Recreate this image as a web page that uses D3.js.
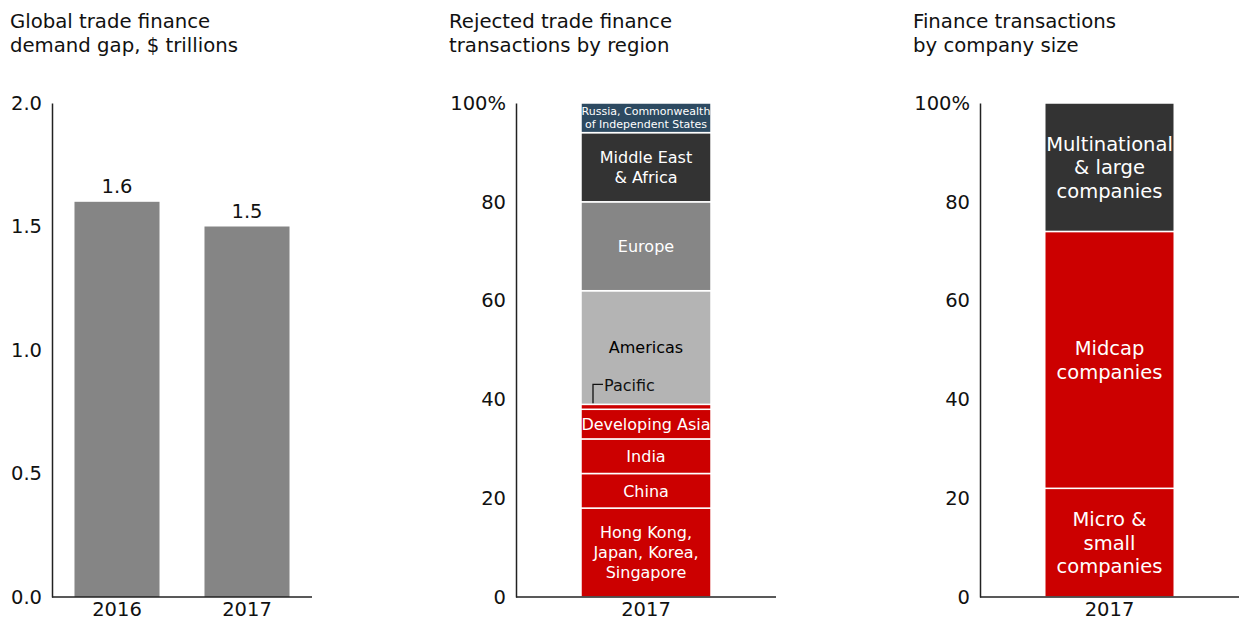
<!DOCTYPE html>
<html><head><meta charset="utf-8">
<script src="https://cdn.jsdelivr.net/npm/d3@7"></script>
<style>body{margin:0;background:#fff}svg{display:block}text{font-family:"DejaVu Sans",Verdana,sans-serif}</style>
</head><body><svg id="c" width="1239" height="621"></svg>
<script>
// Panel 1
const gapYears = ["2016", "2017"];
const gapValues = [1.6, 1.5];
const gapTicks = [0, 0.5, 1.0, 1.5, 2.0];
// Panel 2
const regionCats = ["2017"];
const regionNames = ["Hong Kong,\nJapan, Korea,\nSingapore", "China", "India", "Developing Asia", "Pacific", "Americas", "Europe", "Middle East\n& Africa", "Russia, Commonwealth\nof Independent States"];
const regionValues = [18, 7, 7, 6, 1, 23, 18, 14, 6];
const regionColors = ["#cc0000", "#cc0000", "#cc0000", "#cc0000", "#cc0000", "#b4b4b4", "#868686", "#333333", "#2d4a61"];
const regionText = ["#fff", "#fff", "#fff", "#fff", null, "#000", "#fff", "#fff", "#fff"];
// Panel 3
const sizeCats = ["2017"];
const sizeNames = ["Micro &\nsmall\ncompanies", "Midcap\ncompanies", "Multinational\n& large\ncompanies"];
const sizeValues = [22, 52, 26];
const sizeColors = ["#cc0000", "#cc0000", "#333333"];
const pctTicks = [0, 20, 40, 60, 80, 100];

const svg = d3.select("#c");
const yTop = 103, yBottom = 597;

function titles(x, lines) {
  const t = svg.append("text").attr("x", x).attr("y", 28).attr("font-size", 19.7).attr("fill", "#111");
  lines.forEach((l, i) => t.append("tspan").attr("x", x).attr("dy", i ? 24 : 0).text(l));
}
function axes(x0, x1, y, ticks, fmt, cats, xs) {
  const g = svg.append("g");
  g.append("g").attr("transform", `translate(${x0},0)`)
    .call(d3.axisLeft(y).tickValues(ticks).tickSize(0).tickSizeOuter(0).tickPadding(10).tickFormat(fmt))
    .call(a => { a.select(".domain").attr("stroke", "#222").attr("stroke-width", 1.5);
      a.selectAll("text").attr("font-size", 19.5).attr("fill", "#111").attr("font-family", "DejaVu Sans, Verdana, sans-serif"); });
  g.append("g").attr("transform", `translate(0,${yBottom})`)
    .call(d3.axisBottom(xs).tickSize(0).tickSizeOuter(0).tickPadding(5))
    .call(a => { a.select(".domain").remove();
      a.selectAll("text").attr("font-size", 19.5).attr("fill", "#111").attr("font-family", "DejaVu Sans, Verdana, sans-serif"); });
  g.append("line").attr("x1", x0).attr("x2", x1).attr("y1", yBottom).attr("y2", yBottom).attr("stroke", "#222").attr("stroke-width", 1.5);
}
function multiline(x, yc, str, size, lh, fill) {
  const lines = str.split("\n");
  const t = svg.append("text").attr("text-anchor", "middle").attr("font-size", size).attr("fill", fill);
  lines.forEach((l, i) => t.append("tspan").attr("x", x).attr("y", yc + (i - (lines.length - 1) / 2) * lh).attr("dy", "0.36em").text(l));
}

// ---- Panel 1
titles(10, ["Global trade finance", "demand gap, $ trillions"]);
const y1 = d3.scaleLinear().domain([0, 2]).range([yBottom, yTop]);
const x1 = d3.scaleBand().domain(gapYears).range([52, 312]).paddingInner(0.346).paddingOuter(0.173);
svg.selectAll(".b1").data(gapYears).join("rect")
  .attr("x", d => x1(d)).attr("width", x1.bandwidth())
  .attr("y", (d, i) => y1(gapValues[i])).attr("height", (d, i) => yBottom - y1(gapValues[i]))
  .attr("fill", "#858585");
svg.selectAll(".v1").data(gapYears).join("text")
  .attr("x", d => x1(d) + x1.bandwidth() / 2).attr("y", (d, i) => y1(gapValues[i]) - 9)
  .attr("text-anchor", "middle").attr("font-size", 19.5).attr("fill", "#111")
  .text((d, i) => gapValues[i].toFixed(1));
axes(52, 312, y1, gapTicks, d3.format(".1f"), gapYears, x1);

// ---- stacked helper
function stacked(x0, x1e, cats, vals, colors, names, txtColors, size, lh) {
  const y = d3.scaleLinear().domain([0, 100]).range([yBottom, yTop]);
  const xs = d3.scaleBand().domain(cats).range([x0, x1e]).paddingInner(0.5).paddingOuter(0.25);
  let acc = 0;
  const segs = vals.map((v, i) => { const s = { y0: acc, y1: acc + v, i }; acc += v; return s; });
  svg.selectAll(null).data(segs).join("rect")
    .attr("x", xs(cats[0])).attr("width", xs.bandwidth())
    .attr("y", d => y(d.y1)).attr("height", d => y(d.y0) - y(d.y1))
    .attr("fill", d => colors[d.i]).attr("stroke", "#fff").attr("stroke-width", 1.5);
  const cx = xs(cats[0]) + xs.bandwidth() / 2;
  segs.forEach(s => {
    if (!txtColors[s.i]) return;
    const sz = typeof size === "function" ? size(s.i) : size;
    const l = typeof lh === "function" ? lh(s.i) : lh;
    multiline(cx, (y(s.y0) + y(s.y1)) / 2, names[s.i], sz, l, txtColors[s.i]);
  });
  axes(x0, x1e, y, pctTicks, d => d === 100 ? "100%" : d, cats, xs);
  return { y, xs, segs };
}

// ---- Panel 2
titles(449, ["Rejected trade finance", "transactions by region"]);
const p2 = stacked(516, 776, regionCats, regionValues, regionColors, regionNames, regionText,
  i => i === 8 ? 11 : 16, i => i === 8 ? 13 : 20);
// Pacific callout
const pac = p2.segs[4];
const px = p2.xs(regionCats[0]) + 12;
svg.append("path").attr("d", `M${px},${p2.y(pac.y1) - 1} V${p2.y(pac.y1) - 20} H${px + 10}`)
  .attr("fill", "none").attr("stroke", "#111").attr("stroke-width", 1.3);
svg.append("text").attr("x", px + 11).attr("y", p2.y(pac.y1) - 19).attr("dy", "0.36em")
  .attr("font-size", 16).attr("fill", "#111").text(regionNames[4]);

// ---- Panel 3
titles(913, ["Finance transactions", "by company size"]);
stacked(980, 1239, sizeCats, sizeValues, sizeColors, sizeNames, ["#fff", "#fff", "#fff"], 19.5, 23.5);
</script></body></html>
